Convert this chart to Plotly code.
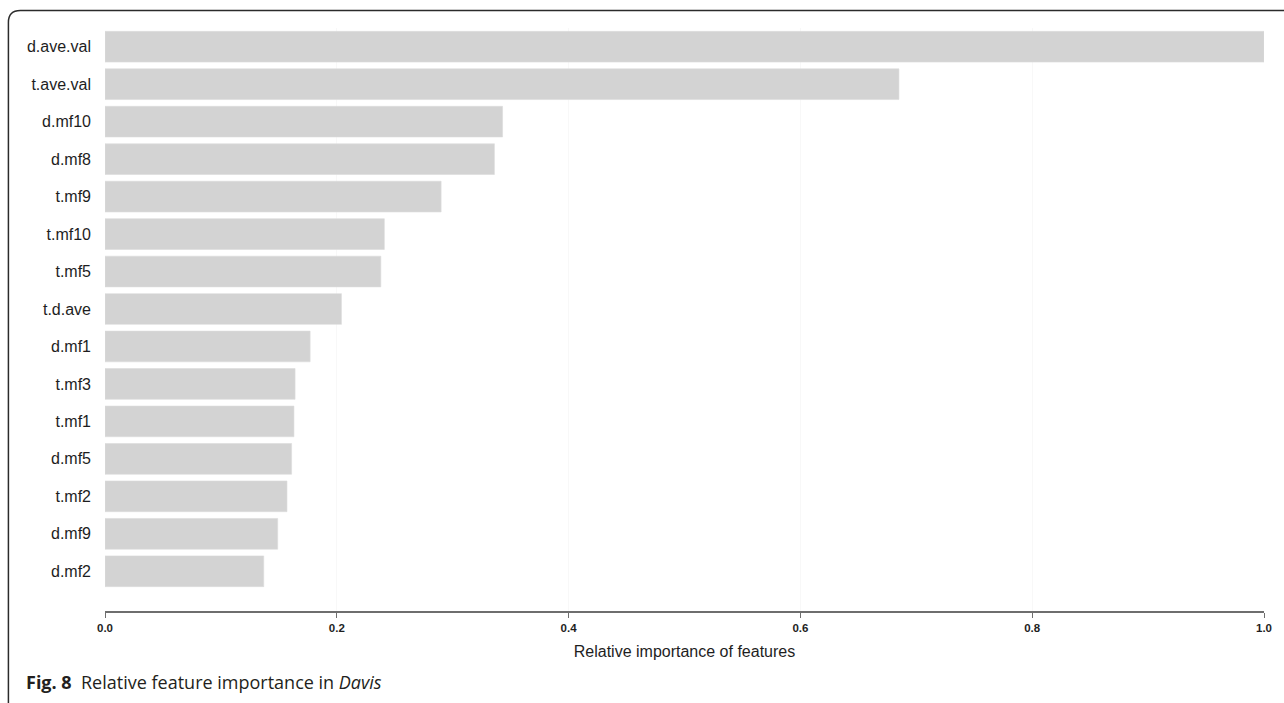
import plotly.graph_objects as go

# Feature names, ordered from most to least important
features = ["d.ave.val", "t.ave.val", "d.mf10", "d.mf8", "t.mf9", "t.mf10", "t.mf5",
            "t.d.ave", "d.mf1", "t.mf3", "t.mf1", "d.mf5", "t.mf2", "d.mf9", "d.mf2"]
importance = [1.0, 0.685, 0.343, 0.336, 0.290, 0.241, 0.238,
              0.204, 0.177, 0.164, 0.163, 0.161, 0.157, 0.149, 0.137]
x_ticks = [0.0, 0.2, 0.4, 0.6, 0.8, 1.0]
x_tick_text = ["0.0", "0.2", "0.4", "0.6", "0.8", "1.0"]

W, H = 1284, 703
ML, MR, MT, MB = 105, 15, 27.5, 92
PW, PH = W - ML - MR, H - MT - MB


def px(x):
    return (x - ML) / PW


def py(y):
    return (H - MB - y) / PH


fig = go.Figure(go.Bar(
    x=importance,
    y=features,
    orientation="h",
    width=0.82,
    marker=dict(color="#d3d3d3", line=dict(width=0.6, color="#dcdcdc")),
    hoverinfo="x+y",
))

# rounded frame around the figure (top and left edges)
frame = (f"M {px(8)},{py(703)} L {px(8)},{py(22)} "
         f"Q {px(8)},{py(10)} {px(20)},{py(10)} L {px(1290)},{py(10)}")
fig.add_shape(type="path", path=frame, xref="paper", yref="paper",
              line=dict(color="#2b2b2b", width=1.5))

fig.add_annotation(
    text="<b>Fig. 8</b>  Relative feature importance in <i>Davis</i>",
    xref="paper", yref="paper", x=px(24), y=py(682),
    xanchor="left", yanchor="middle", showarrow=False,
    font=dict(family="Open Sans", size=18, color="#231f20"),
)

fig.update_layout(
    width=W, height=H,
    margin=dict(l=ML, r=MR, t=MT, b=MB),
    paper_bgcolor="white", plot_bgcolor="white",
    showlegend=False,
    bargap=0.18,
    xaxis=dict(
        range=[0, 1.0], tickvals=x_ticks, ticktext=x_tick_text,
        showgrid=True, gridcolor="#f8f8f8", gridwidth=1,
        zeroline=False, showline=True, linecolor="#6e6e6e", linewidth=1.5,
        ticks="outside", ticklen=5, tickcolor="#6e6e6e", tickwidth=1.2,
        tickfont=dict(family="Liberation Sans", size=11.5, color="#1e1e1e", weight="bold"),
        title=dict(text="Relative importance of features", standoff=13,
                   font=dict(family="Liberation Sans", size=16, color="#1e1e1e")),
        fixedrange=True,
    ),
    yaxis=dict(
        categoryorder="array", categoryarray=features,
        range=[15.06, -0.5],
        showgrid=False, zeroline=False, showline=False, ticks="",
        ticklabelstandoff=13,
        tickfont=dict(family="Liberation Sans", size=16, color="#1e1e1e"),
        fixedrange=True,
    ),
)

fig.write_html("out.html")
